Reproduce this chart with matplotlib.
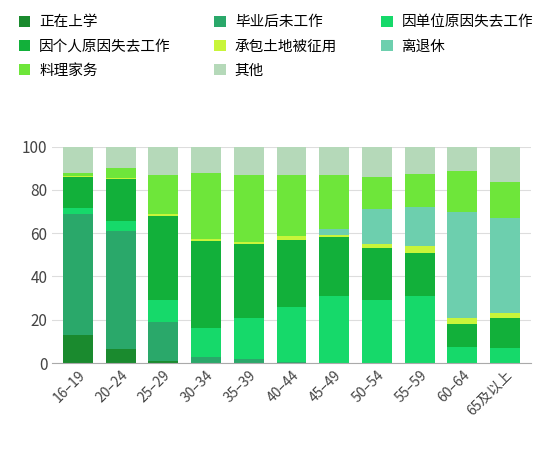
import matplotlib
matplotlib.use("Agg")
import matplotlib.pyplot as plt
import numpy as np

plt.rcParams['font.family'] = ['Noto Sans CJK SC', 'DejaVu Sans']

categories = ['16–19','20–24','25–29','30–34','35–39','40–44','45–49','50–54','55–59','60–64','65及以上']
series_names = ['正在上学','毕业后未工作','因单位原因失去工作','因个人原因失去工作','承包土地被征用','离退休','料理家务','其他']
zaixue   = [13, 6.5, 1, 0, 0, 0, 0, 0, 0, 0, 0]
biye     = [56, 54.5, 18, 3, 2, 0.5, 0, 0, 0, 0, 0]
danwei   = [2.5, 4.5, 10, 13, 19, 25.5, 31, 29, 31, 7.5, 7]
geren    = [14.5, 19.5, 39, 40.5, 34, 31, 27, 24, 20, 10.5, 14]
chengbao = [0.5, 0.3, 0.7, 1, 1, 1.5, 1, 2, 3, 3, 2]
tuixiu   = [0, 0, 0, 0, 0, 0, 3, 16, 18, 49, 44]
jiawu    = [1.5, 4.7, 18, 30.5, 31, 28.5, 25, 15, 15.5, 18.5, 16.5]
qita     = [12, 10, 13, 12, 13, 13, 13, 14, 12.5, 11.5, 16.5]
colors = ['#1a8a2e','#2aa86a','#16d96a','#12b03a','#c8f53a','#6dcfae','#6ee63a','#b5d9b9']

data = [zaixue, biye, danwei, geren, chengbao, tuixiu, jiawu, qita]

fig = plt.figure(figsize=(5.5, 4.51), dpi=100)
ax = fig.add_axes([0.095, 0.195, 0.87, 0.48])
x = np.arange(len(categories))
bottom = np.zeros(len(categories))
handles = []
for name, vals, c in zip(series_names, data, colors):
    b = ax.bar(x, vals, bottom=bottom, width=0.7, color=c, label=name)
    bottom += np.array(vals)
    handles.append(b)
ax.set_ylim(0, 100)
ax.set_xlim(-0.6, len(categories) - 0.4)
ax.set_yticks([0, 20, 40, 60, 80, 100])
ax.yaxis.grid(True, color='#dddddd', lw=0.8)
ax.set_axisbelow(True)
for s in ['top', 'right', 'left']:
    ax.spines[s].set_visible(False)
ax.spines['bottom'].set_color('#aaaaaa')
ax.tick_params(axis='y', length=0, labelsize=11, colors='#444444')
ax.tick_params(axis='x', length=0, labelsize=10, colors='#444444')
ax.set_xticks(x)
ax.set_xticklabels(categories, rotation=45, ha='right', rotation_mode='anchor')

order = [0, 3, 6, 1, 4, 7, 2, 5]
fig.legend([handles[i] for i in order], [series_names[i] for i in order],
           loc='upper left', bbox_to_anchor=(0.01, 0.995), ncol=3, frameon=False,
           fontsize=10.5, handlelength=0.8, handleheight=0.8, columnspacing=3.0,
           labelspacing=0.7, handletextpad=0.6)
fig.savefig('out.png', dpi=100)
